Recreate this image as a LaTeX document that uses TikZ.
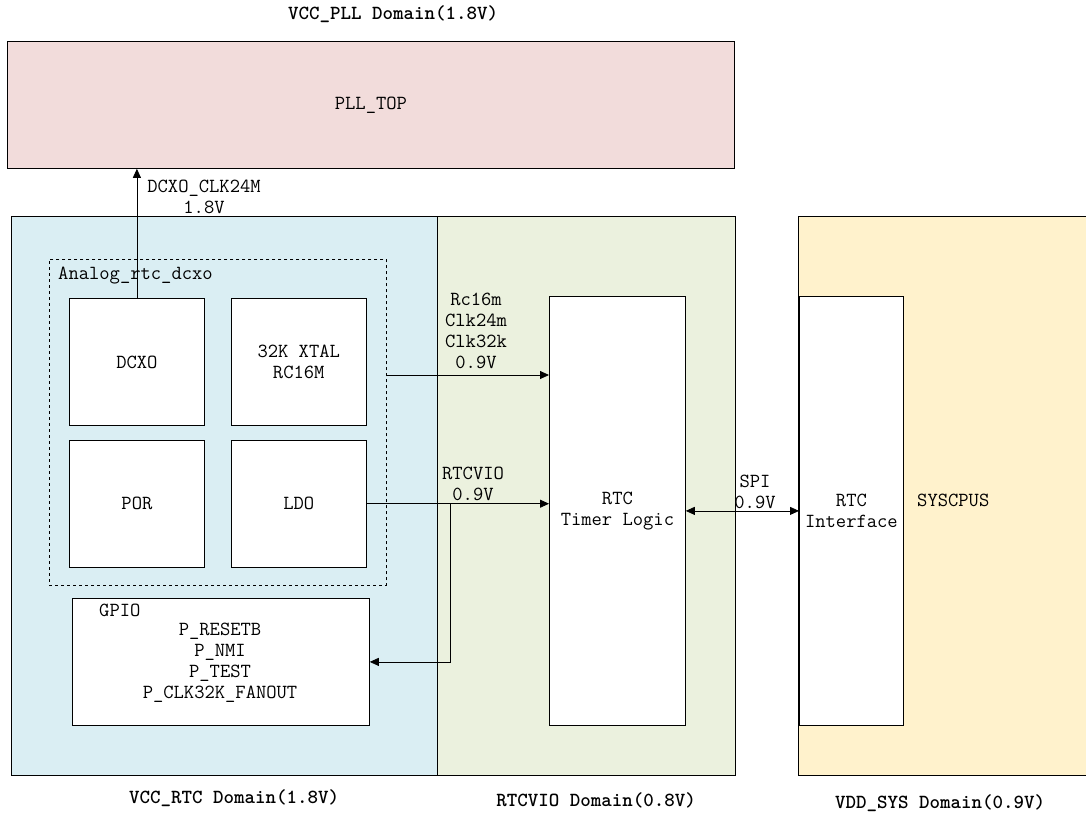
\documentclass[tikz,border=0pt]{standalone}
\usepackage{tikz}
\usetikzlibrary{arrows.meta, positioning}

\definecolor{pllpink}{HTML}{F2DCDB}
\definecolor{rtcblue}{HTML}{DAEEF3}
\definecolor{viogreen}{HTML}{EBF1DE}
\definecolor{sysyellow}{HTML}{FFF2CC}

\begin{document}
\begin{tikzpicture}[
  x=1pt, y=-1pt,
  node distance=14pt and 26pt,
  every node/.style={font=\fontsize{20}{21}\selectfont\ttfamily, inner sep=0pt},
  zone/.style={rectangle, draw, line width=0.8pt, anchor=north west, align=center},
  block/.style={rectangle, draw, fill=white, line width=0.8pt, minimum width=135pt, minimum height=127pt, align=center},
  domtitle/.style={font=\fontsize{20}{21}\selectfont\ttfamily\bfseries},
  sig/.style={align=center},
  arrow/.style={-{Triangle[length=9pt,width=8pt]}, line width=0.8pt},
  dblarrow/.style={{Triangle[length=9pt,width=8pt]}-{Triangle[length=9pt,width=8pt]}, line width=0.8pt}
]
\useasboundingbox (0,0) rectangle (1086,815);

% Power domains
\node[domtitle] (plltitle) at (393,14) {VCC\_PLL Domain(1.8V)};
\node[zone, fill=pllpink, minimum width=727pt, minimum height=127pt] (pll) at (7,41) {PLL\_TOP};
\node[zone, fill=rtcblue, minimum width=426pt, minimum height=559pt] (rtcdom) at (11,216) {};
\node[zone, fill=viogreen, minimum width=298pt, minimum height=559pt] (viodom) at (437,216) {};
\node[zone, fill=sysyellow, minimum width=295pt, minimum height=559pt] (sysdom) at (798,216) {};

\node[domtitle] (rtctitle) at (234,798) {VCC\_RTC Domain(1.8V)};
\node[domtitle] (viotitle) at (596,800) {RTCVIO Domain(0.8V)};
\node[domtitle] (systitle) at (940,803) {VDD\_SYS Domain(0.9V)};

% Analog block
\node[zone, dashed, minimum width=337pt, minimum height=326pt] (analog) at (49,259) {};
\node[anchor=west] (analoglbl) at (58,276) {Analog\_rtc\_dcxo};

\node[block, anchor=north west] (dcxo) at (69,298) {DCXO};
\node[block, right=of dcxo] (xtal) {32K XTAL\\RC16M};
\node[block, below=of dcxo] (por) {POR};
\node[block, below=of xtal] (ldo) {LDO};

% GPIO
\node[zone, fill=white, minimum width=297pt, minimum height=127pt] (gpio) at (72,598) {};
\node[anchor=west] (gpiolbl) at (99,610) {GPIO};
\node[sig] (gpiopins) at (220,663) {P\_RESETB\\P\_NMI\\P\_TEST\\P\_CLK32K\_FANOUT};

% RTC logic and interface
\node[zone, fill=white, minimum width=136pt, minimum height=429pt] (timer) at (549,296) {RTC\\Timer Logic};
\node[zone, fill=white, minimum width=104pt, minimum height=429pt] (iface) at (799,296) {RTC\\Interface};
\node[anchor=west] (syscpus) at (917,500) {SYSCPUS};

% Signal labels
\node[sig] (clklbl) at (204,197) {DCXO\_CLK24M\\1.8V};
\node[sig] (rclbl) at (476,331) {Rc16m\\Clk24m\\Clk32k\\0.9V};
\node[sig] (violbl) at (473,484) {RTCVIO\\0.9V};
\node[sig] (spilbl) at (755,492) {SPI\\0.9V};

% Arrows
\coordinate (rcout) at (analog.east |- 0,375);
\coordinate (tap) at (ldo.east -| 450,0);
\draw[arrow] (dcxo.north) -- (dcxo.north |- pll.south);
\draw[arrow] (rcout) -- (rcout -| timer.west);
\draw[arrow] (ldo.east) -- (ldo.east -| timer.west);
\draw[arrow] (tap) |- (gpio.east);
\draw[dblarrow] (timer.east) -- (iface.west);

\end{tikzpicture}
\end{document}
